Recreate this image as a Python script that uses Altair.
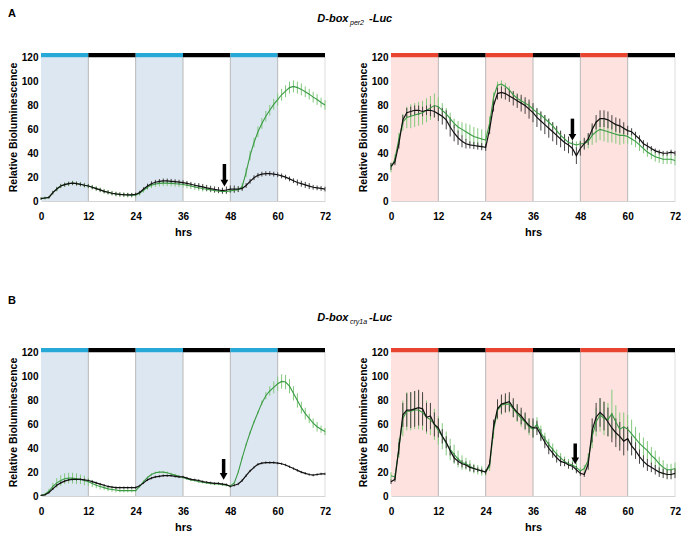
import altair as alt
import pandas as pd

hours = list(range(73))

# ---------- Panel A, left (blue light) ----------
AL_black = [2, 2.5, 3, 7, 10, 12.6, 13.7, 14.5, 15, 14.6, 14, 13.2,
            12.6, 11.5, 10.4, 9.3, 8.1, 7.3, 6.5, 5.9, 5.5, 5.3, 5.2, 5.2,
            5.5, 7, 10, 12.5, 14.5, 15.7, 16.4, 16.8, 16.8, 16.5, 16.2, 15.8,
            15.4, 14.8, 14, 13.2, 12.5, 11.8, 11, 10.3, 9.7, 9.2, 8.7, 9.2,
            10, 10, 10, 10.5, 13, 16.5, 19.5, 21.5, 22.5, 23, 23, 22.5,
            22, 21, 20, 18.5, 17, 15.5, 14.5, 13.5, 12.5, 11.5, 11, 10.5, 10]
AL_black_err = [1, 1, 1, 1.5, 1.5, 1.5, 1.5, 1.5, 1.5, 1.5, 1.5, 1.5,
                1.5, 1.5, 1.5, 1.5, 1.5, 1.5, 1.5, 1.5, 1.5, 1.5, 1.5, 1.5,
                1.5, 1.5, 1.5, 2, 2, 2, 2, 2, 2, 2, 2, 2,
                2, 2, 2, 2, 2.5, 2.5, 2.5, 2.5, 2.5, 2.5, 2.5, 3,
                3, 3, 2.5, 2, 2, 2, 2, 2, 2, 2, 2, 2,
                2, 2, 2, 2, 2, 2.5, 2.5, 2.5, 2.5, 2, 2, 2, 2]
AL_green = [2, 2.5, 3, 7, 10, 12.6, 13.7, 14.5, 15, 14.6, 14, 13.2,
            12.6, 11.5, 10.4, 9.3, 8.1, 7.3, 6.5, 5.9, 5.5, 5.3, 5.0, 4.9,
            5, 6.5, 9, 11.5, 13.3, 14.3, 14.8, 15, 15, 14.8, 14.5, 14.2,
            13.8, 13.2, 12.5, 11.8, 11.1, 10.5, 9.9, 9.3, 8.8, 8.3, 7.9, 8,
            8.5, 9, 9.5, 12, 24, 38, 49, 58, 65, 71, 76, 81,
            85, 89, 92, 95, 96, 95, 93.5, 91.5, 89.5, 87, 85, 82.5, 80.5]
AL_green_err = [1, 1, 1, 1.5, 2, 2, 2, 2, 2, 2, 2, 2,
                2, 2, 2, 2, 2, 2, 2, 2, 2, 2, 2, 2,
                2, 2, 2, 2, 2.5, 2.5, 2.5, 2.5, 2.5, 2.5, 2.5, 2.5,
                2.5, 2.5, 2.5, 2.5, 2.5, 2.5, 2, 2, 2, 2, 2, 2,
                2, 2, 2, 3, 4, 4, 4, 4.5, 4.5, 4.5, 4.5, 4.5,
                5, 5, 5, 5, 5, 5, 5, 4.5, 4.5, 4.5, 4.5, 4, 4]

# ---------- Panel A, right (red light) ----------
AR_black = [29, 33, 48, 68, 74, 75, 76, 76, 75, 76, 76, 75,
            73, 71, 68, 62, 57, 53, 50, 48, 47, 46.5, 46, 45.5,
            45, 60, 80, 90, 91, 90, 88, 86, 84, 82, 80, 77,
            74, 70, 67, 64, 61, 58, 55, 52, 49, 47, 44, 38,
            44, 48, 52, 60, 66, 69, 69, 68, 66, 64, 63, 61,
            59, 58, 55, 52, 48, 46, 44, 42, 41, 40, 40, 41, 40]
AR_black_err = [3, 3, 4, 4, 4, 4, 4, 4, 4, 4, 5, 5,
                6, 7, 8, 8, 7, 6, 5, 4, 3, 3, 3, 3,
                3, 4, 5, 5, 5, 5, 5, 6, 6, 7, 7, 8,
                8, 8, 8, 8, 8, 8, 8, 7, 7, 7, 6, 7,
                6, 5, 5, 5, 6, 7, 7, 7, 6, 6, 6, 5,
                4, 3, 3, 3, 3, 3, 2, 2, 2, 2, 2, 2, 2]
AR_green = [28, 35, 52, 66, 70, 71, 72, 73, 74, 76, 78, 80,
            79, 76, 73, 69, 65, 62, 60, 58, 56, 54, 53, 52,
            51, 65, 87, 97, 98, 96, 93, 89, 86, 84, 82, 80,
            77, 74, 72, 69, 66, 63, 59, 55, 52, 49, 48, 47,
            48, 48, 50, 55, 58, 60, 59, 58, 57, 56, 55, 55,
            54, 52, 50, 47, 44, 41, 39, 37, 36, 35, 35, 35, 34]
AR_green_err = [4, 4, 5, 7, 9, 10, 10, 10, 10, 10, 10, 10,
                8, 6, 5, 5, 4, 5, 6, 7, 8, 8, 8, 8,
                8, 6, 4, 3, 3, 3, 3, 3, 3, 3, 3, 3,
                3, 3, 3, 3, 3, 3, 3, 3, 3, 3, 3, 3,
                3, 4, 6, 8, 9, 9, 9, 9, 8, 8, 8, 7,
                6, 5, 5, 5, 4, 4, 4, 4, 4, 4, 4, 4, 4]

# ---------- Panel B, left (blue light) ----------
BL_black = [0.5, 1, 3, 6, 9, 11, 12.5, 13.5, 14, 14, 14, 13.5,
            13, 12, 11, 10, 9, 8, 7.5, 7, 7, 7, 7, 7,
            7, 8.5, 11, 13.5, 15, 16, 16.5, 17, 17, 17, 16.5, 16,
            16, 15, 14, 13.5, 13, 12, 11.5, 11, 10.5, 10.5, 10, 9.5,
            8, 9, 10, 13, 17, 21, 24, 26.5, 27.5, 28, 28, 28,
            27.5, 27, 26, 24.5, 23, 21.5, 20, 19, 18, 17.5, 18, 18.5, 18.5]
BL_black_err = [0.5, 0.5, 1, 1, 1, 1, 1, 1, 1, 1, 1, 1,
                1, 1, 1, 1, 1, 1, 1, 1, 1, 1, 1, 1,
                1, 1, 1, 1, 1, 1, 1, 1, 1, 1, 1, 1,
                1, 1, 1, 1, 1, 1, 1, 1, 1, 1, 1, 1,
                1, 1, 1, 1, 1, 1, 1, 1, 1, 1, 1, 1,
                1, 1, 1, 1, 1, 1, 1, 1, 1, 1, 1, 1, 1]
BL_green = [0.5, 1.5, 4, 8, 11, 13, 14.5, 15, 15, 14.5, 14, 13,
            12, 10.5, 9, 8, 7, 6, 5.5, 5, 4.5, 4.5, 4.5, 4.5,
            4.5, 8, 12, 15.5, 18, 19.5, 20, 20, 19.5, 18.5, 17.5, 16.5,
            15.5, 14.5, 13.5, 13, 12, 11.5, 11, 10.5, 10, 10, 9.5, 9,
            8.5, 11, 20, 32, 43, 53, 62, 70, 78, 84, 88, 91,
            94, 96, 95.5, 92, 86, 80, 74, 69, 65, 61, 58, 56, 54]
BL_green_err = [0.5, 1, 2, 3, 4, 4.5, 4.5, 4.5, 4.5, 4.5, 4, 4,
                3.5, 3, 2.5, 2.5, 2, 2, 2, 2, 1.5, 1.5, 1.5, 1.5,
                1, 1, 1, 1, 1, 1, 1, 1, 1, 1, 1, 1,
                1, 1, 1, 1, 1, 1, 1, 1, 1, 1, 1, 1,
                1, 1, 1, 1, 1, 1, 1, 1, 2, 3, 4, 5,
                6, 6, 6, 6, 6, 6, 5, 5, 4, 4, 4, 3, 3]

# ---------- Panel B, right (red light) ----------
BR_black = [12, 14, 40, 68, 72, 72, 73, 74, 73, 66, 67, 60,
            57, 50, 45, 38, 32, 29, 27, 26, 24, 23, 22, 21,
            20, 27, 58, 73, 77, 78, 79, 74, 70, 67, 63, 59,
            57, 57, 51, 45, 40, 36, 32, 29, 28, 26, 25, 22,
            19, 18, 27, 55, 66, 70, 67, 62, 57, 53, 50, 46,
            48, 42, 38, 33, 29, 26, 24, 22, 20, 19, 18, 18, 19]
BR_black_err = [2, 2, 5, 10, 14, 15, 15, 15, 14, 12, 11, 10,
                8, 6, 5, 4, 4, 3, 3, 3, 3, 3, 2, 2,
                2, 3, 6, 8, 8, 8, 8, 8, 7, 7, 7, 6,
                8, 6, 5, 5, 5, 4, 4, 4, 3, 3, 3, 3,
                2, 2, 5, 10, 12, 12, 12, 12, 12, 12, 12, 12,
                10, 8, 7, 6, 5, 5, 4, 4, 4, 4, 4, 4, 4]
BR_green = [17, 16, 40, 65, 71, 71, 72, 72, 70, 66, 64, 60,
            55, 50, 44, 39, 35, 31, 28, 27, 25, 23, 22, 21,
            20, 25, 55, 72, 76, 77, 77, 73, 69, 65, 62, 58,
            56, 60, 53, 48, 43, 39, 35, 32, 29, 27, 26, 24,
            21, 23, 30, 50, 62, 68, 65, 64, 69, 62, 56, 58,
            56, 52, 48, 44, 41, 38, 34, 31, 27, 24, 22, 22, 23]
BR_green_err = [3, 3, 8, 15, 16, 16, 16, 16, 15, 14, 13, 13,
                12, 11, 10, 9, 8, 7, 6, 5, 5, 4, 4, 4,
                3, 4, 7, 8, 8, 7, 7, 7, 7, 7, 7, 7,
                7, 6, 6, 5, 5, 5, 4, 4, 4, 4, 4, 4,
                3, 3, 6, 10, 12, 14, 14, 14, 20, 14, 14, 12,
                12, 12, 10, 9, 8, 8, 7, 7, 6, 6, 5, 5, 5]

# arrows (x, shaft top, tip) per panel
arrows = {
    "AL": (46.5, 31, 12.5),
    "AR": (46.0, 69, 51),
    "BL": (46.3, 31, 14),
    "BR": (46.7, 44, 27),
}

light_starts = [0, 24, 48]
light_ends = [12, 36, 60]
bar_starts = [0, 12, 24, 36, 48, 60]
bar_ends = [12, 24, 36, 48, 60, 72]
boundaries = [12, 24, 36, 48, 60, 72]

FONT = "Liberation Sans"
W, H = 284, 148

xs = alt.Scale(domain=[0, 72], nice=False, zero=False)
ys = alt.Scale(domain=[0, 124], nice=False)
xaxis = alt.Axis(values=[0, 12, 24, 36, 48, 60, 72], title="hrs", ticks=False, grid=False,
                 domainColor="#d4d4d4", labelPadding=10, titlePadding=5, labelFlush=False,
                 labelFont=FONT, titleFont=FONT, labelFontSize=10, titleFontSize=11,
                 labelFontWeight="bold", titleFontWeight="bold",
                 labelColor="#000", titleColor="#000")
yaxis = alt.Axis(values=[0, 20, 40, 60, 80, 100, 120], title="Relative Bioluminescence",
                 ticks=False, grid=False, domain=False, labelPadding=3, titlePadding=3,
                 labelFont=FONT, titleFont=FONT, labelFontSize=10, titleFontSize=10.5,
                 labelFontWeight="bold", titleFontWeight="bold",
                 labelColor="#000", titleColor="#000")


def X(f):
    return alt.X(f, scale=xs, axis=xaxis)


def Y(f):
    return alt.Y(f, scale=ys, axis=yaxis)


def panel(black, black_err, green, green_err, arrow, shade_col, light_col):
    shade_df = pd.DataFrame({"x0": light_starts, "x1": light_ends,
                             "y0": [0] * 3, "y1": [120.5] * 3})
    bar_df = pd.DataFrame({"x0": bar_starts, "x1": bar_ends,
                           "y0": [120.5] * 6, "y1": [124] * 6,
                           "c": [light_col, "#000000"] * 3})
    vl_df = pd.DataFrame({"x": boundaries, "y0": [0] * 6, "y1": [120.5] * 6,
                          "c": ["#b8b8b8"] * 5 + ["#dddddd"]})
    g_df = pd.DataFrame({"t": hours, "v": green,
                         "lo": [v - e for v, e in zip(green, green_err)],
                         "hi": [v + e for v, e in zip(green, green_err)]})
    k_df = pd.DataFrame({"t": hours, "v": black,
                         "lo": [v - e for v, e in zip(black, black_err)],
                         "hi": [v + e for v, e in zip(black, black_err)]})
    ax, atop, atip = arrow
    ar_df = pd.DataFrame({"x": [ax], "top": [atop], "tip": [atip],
                          "neck": [atip + 3.5], "head": [atip + 2.4]})

    shade = alt.Chart(shade_df).mark_rect(color=shade_col).encode(
        x=X("x0:Q"), x2="x1", y=Y("y0:Q"), y2="y1")
    vlines = alt.Chart(vl_df).mark_rule(strokeWidth=1).encode(
        x=X("x:Q"), y=Y("y0:Q"), y2="y1", color=alt.Color("c:N", scale=None))
    bar = alt.Chart(bar_df).mark_rect().encode(
        x=X("x0:Q"), x2="x1", y=Y("y0:Q"), y2="y1", color=alt.Color("c:N", scale=None))
    g_err = alt.Chart(g_df).mark_rule(color="#82c97c", strokeWidth=1).encode(
        x=X("t:Q"), y=Y("lo:Q"), y2="hi")
    k_err = alt.Chart(k_df).mark_rule(color="#4a4444", strokeWidth=1).encode(
        x=X("t:Q"), y=Y("lo:Q"), y2="hi")
    g_line = alt.Chart(g_df).mark_line(color="#3a9a44", strokeWidth=1.1).encode(
        x=X("t:Q"), y=Y("v:Q"))
    k_line = alt.Chart(k_df).mark_line(color="#111111", strokeWidth=1.2).encode(
        x=X("t:Q"), y=Y("v:Q"))
    shaft = alt.Chart(ar_df).mark_rule(color="#000", strokeWidth=3.5).encode(
        x=X("x:Q"), y=Y("top:Q"), y2="neck")
    head = alt.Chart(ar_df).mark_point(shape="triangle-down", filled=True, color="#000",
                                       opacity=1, size=60).encode(
        x=X("x:Q"), y=Y("head:Q"))
    return alt.layer(shade, vlines, bar, g_err, k_err, g_line, k_line, shaft, head).properties(
        width=W, height=H)


BLUE_SHADE = "#dde7f1"
PINK_SHADE = "#fde2df"
CYAN = "#27a9d8"
RED = "#e8442f"

pAL = panel(AL_black, AL_black_err, AL_green, AL_green_err, arrows["AL"], BLUE_SHADE, CYAN)
pAR = panel(AR_black, AR_black_err, AR_green, AR_green_err, arrows["AR"], PINK_SHADE, RED)
pBL = panel(BL_black, BL_black_err, BL_green, BL_green_err, arrows["BL"], BLUE_SHADE, CYAN)
pBR = panel(BR_black, BR_black_err, BR_green, BR_green_err, arrows["BR"], PINK_SHADE, RED)

hdrA = pd.DataFrame({"d": [0]})
hdrB = pd.DataFrame({"d": [1]})


# header text positions are relative to the left edge of the first plot area
def header(df, letter, sub, letter_y, title_y, height):
    base = alt.Chart(df)
    lt = base.mark_text(text=letter, align="left", baseline="middle", font=FONT,
                        fontSize=11, fontWeight="bold", color="#000").encode(
        x=alt.value(-33), y=alt.value(letter_y))
    t1 = base.mark_text(text="D-box", align="right", baseline="middle", font=FONT,
                        fontSize=11, fontWeight="bold", fontStyle="italic", color="#000").encode(
        x=alt.value(307.5), y=alt.value(title_y))
    t2 = base.mark_text(text=sub, align="left", baseline="middle", font=FONT,
                        fontSize=7, fontStyle="italic", color="#000").encode(
        x=alt.value(309), y=alt.value(title_y + 4))
    t3 = base.mark_text(text="-Luc", align="left", baseline="middle", font=FONT,
                        fontSize=11, fontWeight="bold", fontStyle="italic", color="#000").encode(
        x=alt.value(328), y=alt.value(title_y))
    return alt.layer(lt, t1, t2, t3).properties(width=600, height=height)


hA = header(hdrA, "A", "per2", 6, 11, 22)
hB = header(hdrB, "B", "cry1a", 42, 59, 62)

rowA = alt.hconcat(pAL, pAR, spacing=27)
rowB = alt.hconcat(pBL, pBR, spacing=27)

chart = alt.vconcat(hA, rowA, hB, rowB, spacing=22).properties(
    padding={"left": 0, "top": 0, "right": 0, "bottom": 0}
).configure_view(stroke=None)

chart.save("out.html", embed_options={"renderer": "svg", "actions": False})
